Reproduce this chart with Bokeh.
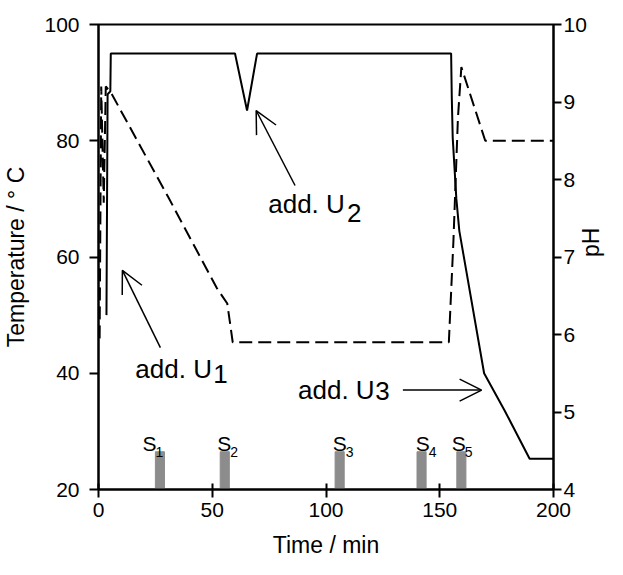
import math
from bokeh.plotting import figure
from bokeh.models import Range1d, LinearAxis, Arrow, OpenHead, FixedTicker
from bokeh.core.properties import value
from bokeh.embed import file_html
from bokeh.resources import INLINE

# ---- data ----
temp_time = [3.5, 4.0, 5.2, 5.4, 60.0, 65.3, 69.7, 155.0, 155.3, 155.7, 157.3, 158.6, 169.5, 178.5, 189.5, 200.0]
temp_val = [50.0, 88.0, 88.5, 95.0, 95.0, 85.2, 95.0, 95.0, 87.3, 80.5, 70.0, 64.5, 40.0, 33.6, 25.3, 25.3]

ph_time = [0.5, 1.2, 2.3, 3.2, 5.5, 30.7, 52.0, 56.6, 59.0, 154.0, 156.0, 158.0, 159.5, 170.0, 200.0]
ph_val = [5.95, 9.2, 7.7, 9.2, 9.12, 7.77, 6.6, 6.4, 5.9, 5.9, 7.2, 8.8, 9.45, 8.5, 8.5]

sample_time = [27.0, 55.5, 106.0, 142.0, 159.5]
sample_top = [26.5, 26.5, 26.5, 26.5, 26.5]
sample_names = ["S", "S", "S", "S", "S"]
sample_idx = ["1", "2", "3", "4", "5"]
sample_label_x = [19.3, 52.2, 103.0, 139.5, 155.3]

x_ticks = [0, 50, 100, 150, 200]
temp_ticks = [20, 40, 60, 80, 100]
ph_ticks = [4, 5, 6, 7, 8, 9, 10]

# annotations
ann_text = ["add. U", "add. U", "add. U"]
ann_digit = ["1", "2", "3"]
ann_x = [16.2, 74.6, 87.7]
ann_y = [40.8, 69.2, 37.2]
ann_dx = [50.4, 109.2, 121.6]
ann_dy = [39.9, 67.6, 37.0]
arrow_tail_x = [27.2, 86.4, 133.8]
arrow_tail_y = [44.4, 72.3, 37.1]
arrow_tip_x = [10.5, 69.3, 168.4]
arrow_tip_y = [57.7, 85.2, 37.1]

FONT = "Liberation Sans"

p = figure(width=623, height=567, output_backend="svg", toolbar_location=None,
           x_range=Range1d(0, 200), y_range=Range1d(20, 100),
           min_border_left=97, min_border_top=24, min_border_right=70, min_border_bottom=78)
p.extra_y_ranges = {"ph": Range1d(4, 10)}

p.grid.visible = False
p.outline_line_color = "black"
p.outline_line_width = 2
p.background_fill_color = "white"
p.border_fill_color = "white"

# bars
p.vbar(x=sample_time, top=sample_top, bottom=20, width=4, color="#8c8c8c")

# curves
p.line(temp_time, temp_val, line_color="black", line_width=2)
p.line(ph_time, ph_val, line_color="black", line_width=2, line_dash="13 6", y_range_name="ph")

# sample labels
p.text(x=sample_label_x, y=[27.9] * 5, text=sample_names, text_font=value(FONT),
       text_font_size="21px", text_color="black", text_baseline="alphabetic", text_align="left")
p.text(x=sample_label_x, y=[27.9] * 5, text=sample_idx, text_font=value(FONT),
       text_font_size="14px", text_color="black", text_baseline="alphabetic", text_align="left",
       x_offset=13, y_offset=8)

# annotations
p.text(x=ann_x, y=ann_y, text=ann_text, text_font=value(FONT), text_font_size="26px",
       text_color="black", text_baseline="middle", text_align="left")
p.text(x=ann_dx, y=ann_dy, text=ann_digit, text_font=value(FONT), text_font_size="26px",
       text_color="black", text_baseline="middle", text_align="left")
for xs, ys, xe, ye in zip(arrow_tail_x, arrow_tail_y, arrow_tip_x, arrow_tip_y):
    p.add_layout(Arrow(end=OpenHead(size=22, line_width=1.5, line_color="black"),
                       x_start=xs, y_start=ys, x_end=xe, y_end=ye,
                       line_width=1.5, line_color="black"))

# axes styling
def style_axis(ax, tin, tout):
    ax.axis_line_width = 2
    ax.axis_line_color = "black"
    ax.major_tick_line_width = 2
    ax.major_tick_line_color = "black"
    ax.major_tick_in = tin
    ax.major_tick_out = tout
    ax.minor_tick_line_color = None
    ax.major_label_text_font = FONT
    ax.major_label_text_font_size = "21px"
    ax.major_label_text_color = "black"
    ax.axis_label_text_font = FONT
    ax.axis_label_text_font_size = "23px"
    ax.axis_label_text_font_style = "normal"
    ax.axis_label_text_color = "black"

xa = p.xaxis[0]
xa.ticker = FixedTicker(ticks=x_ticks)
xa.axis_label = "Time / min"
style_axis(xa, 6, 8)
xa.major_label_standoff = 5
xa.axis_label_standoff = 12

ya = p.yaxis[0]
ya.ticker = FixedTicker(ticks=temp_ticks)
ya.axis_label = "Temperature / ° C"
style_axis(ya, 0, 9)
ya.major_label_standoff = 10
ya.axis_label_standoff = 12

ra = LinearAxis(y_range_name="ph", ticker=FixedTicker(ticks=ph_ticks), axis_label="pH")
style_axis(ra, 0, 8)
ra.major_label_standoff = 2
ra.axis_label_standoff = 1
ra.axis_label_orientation = math.pi / 2
p.add_layout(ra, "right")

open("out.html", "w").write(file_html(p, INLINE))
